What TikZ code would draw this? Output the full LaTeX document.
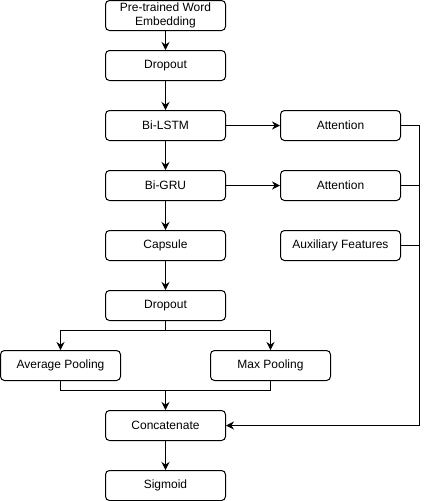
\documentclass[tikz,border=0pt]{standalone}
\usepackage{fontspec}
\setmainfont{Liberation Sans}
\usetikzlibrary{arrows.meta}

\begin{document}
\begin{tikzpicture}[x=0.75pt,y=-0.75pt,line width=0.75pt,
    box/.style={draw,rounded corners=3pt,minimum width=90pt,minimum height=22.5pt,
        inner ysep=1pt,align=center,font=\fontsize{9}{10.5}\selectfont},
    arr/.style={-{Stealth[length=6pt,width=6pt,inset=2pt]}}]
\useasboundingbox (-0.5,-0.5) rectangle (428.5,500.5);
% main column
\node[box] (emb) at (165,15) {Pre-trained Word\\Embedding};
\foreach \n/\t/\y in {drop1/Dropout/65, lstm/Bi-LSTM/125, gru/Bi-GRU/185,
    caps/Capsule/245, drop2/Dropout/305, concat/Concatenate/425, sig/Sigmoid/485}
    \node[box] (\n) at (165,\y) {\t};
% side boxes
\node[box] (att1) at (340,125) {Attention};
\node[box] (att2) at (340,185) {Attention};
\node[box] (aux) at (340,245) {Auxiliary Features};
\node[box] (avg) at (60,365) {Average Pooling};
\node[box] (max) at (270,365) {Max Pooling};
\coordinate (split) at (165,330);
\coordinate (merge) at (165,390);
\coordinate (bus) at (419,425);
% connectors
\foreach \a/\b in {emb/drop1, drop1/lstm, lstm/gru, gru/caps, caps/drop2, concat/sig}
    \draw[arr] (\a) -- (\b);
\draw[arr] (lstm) -- (att1);
\draw[arr] (gru) -- (att2);
\draw (drop2) -- (split);
\draw[arr] (split) -| (avg);
\draw[arr] (split) -| (max);
\draw (avg) |- (merge);
\draw (max) |- (merge);
\draw[arr] (merge) -- (concat);
\draw[arr] (att1) -| (bus) -- (concat);
\draw (att2) -| (bus);
\draw (aux) -| (bus);
\end{tikzpicture}
\end{document}
